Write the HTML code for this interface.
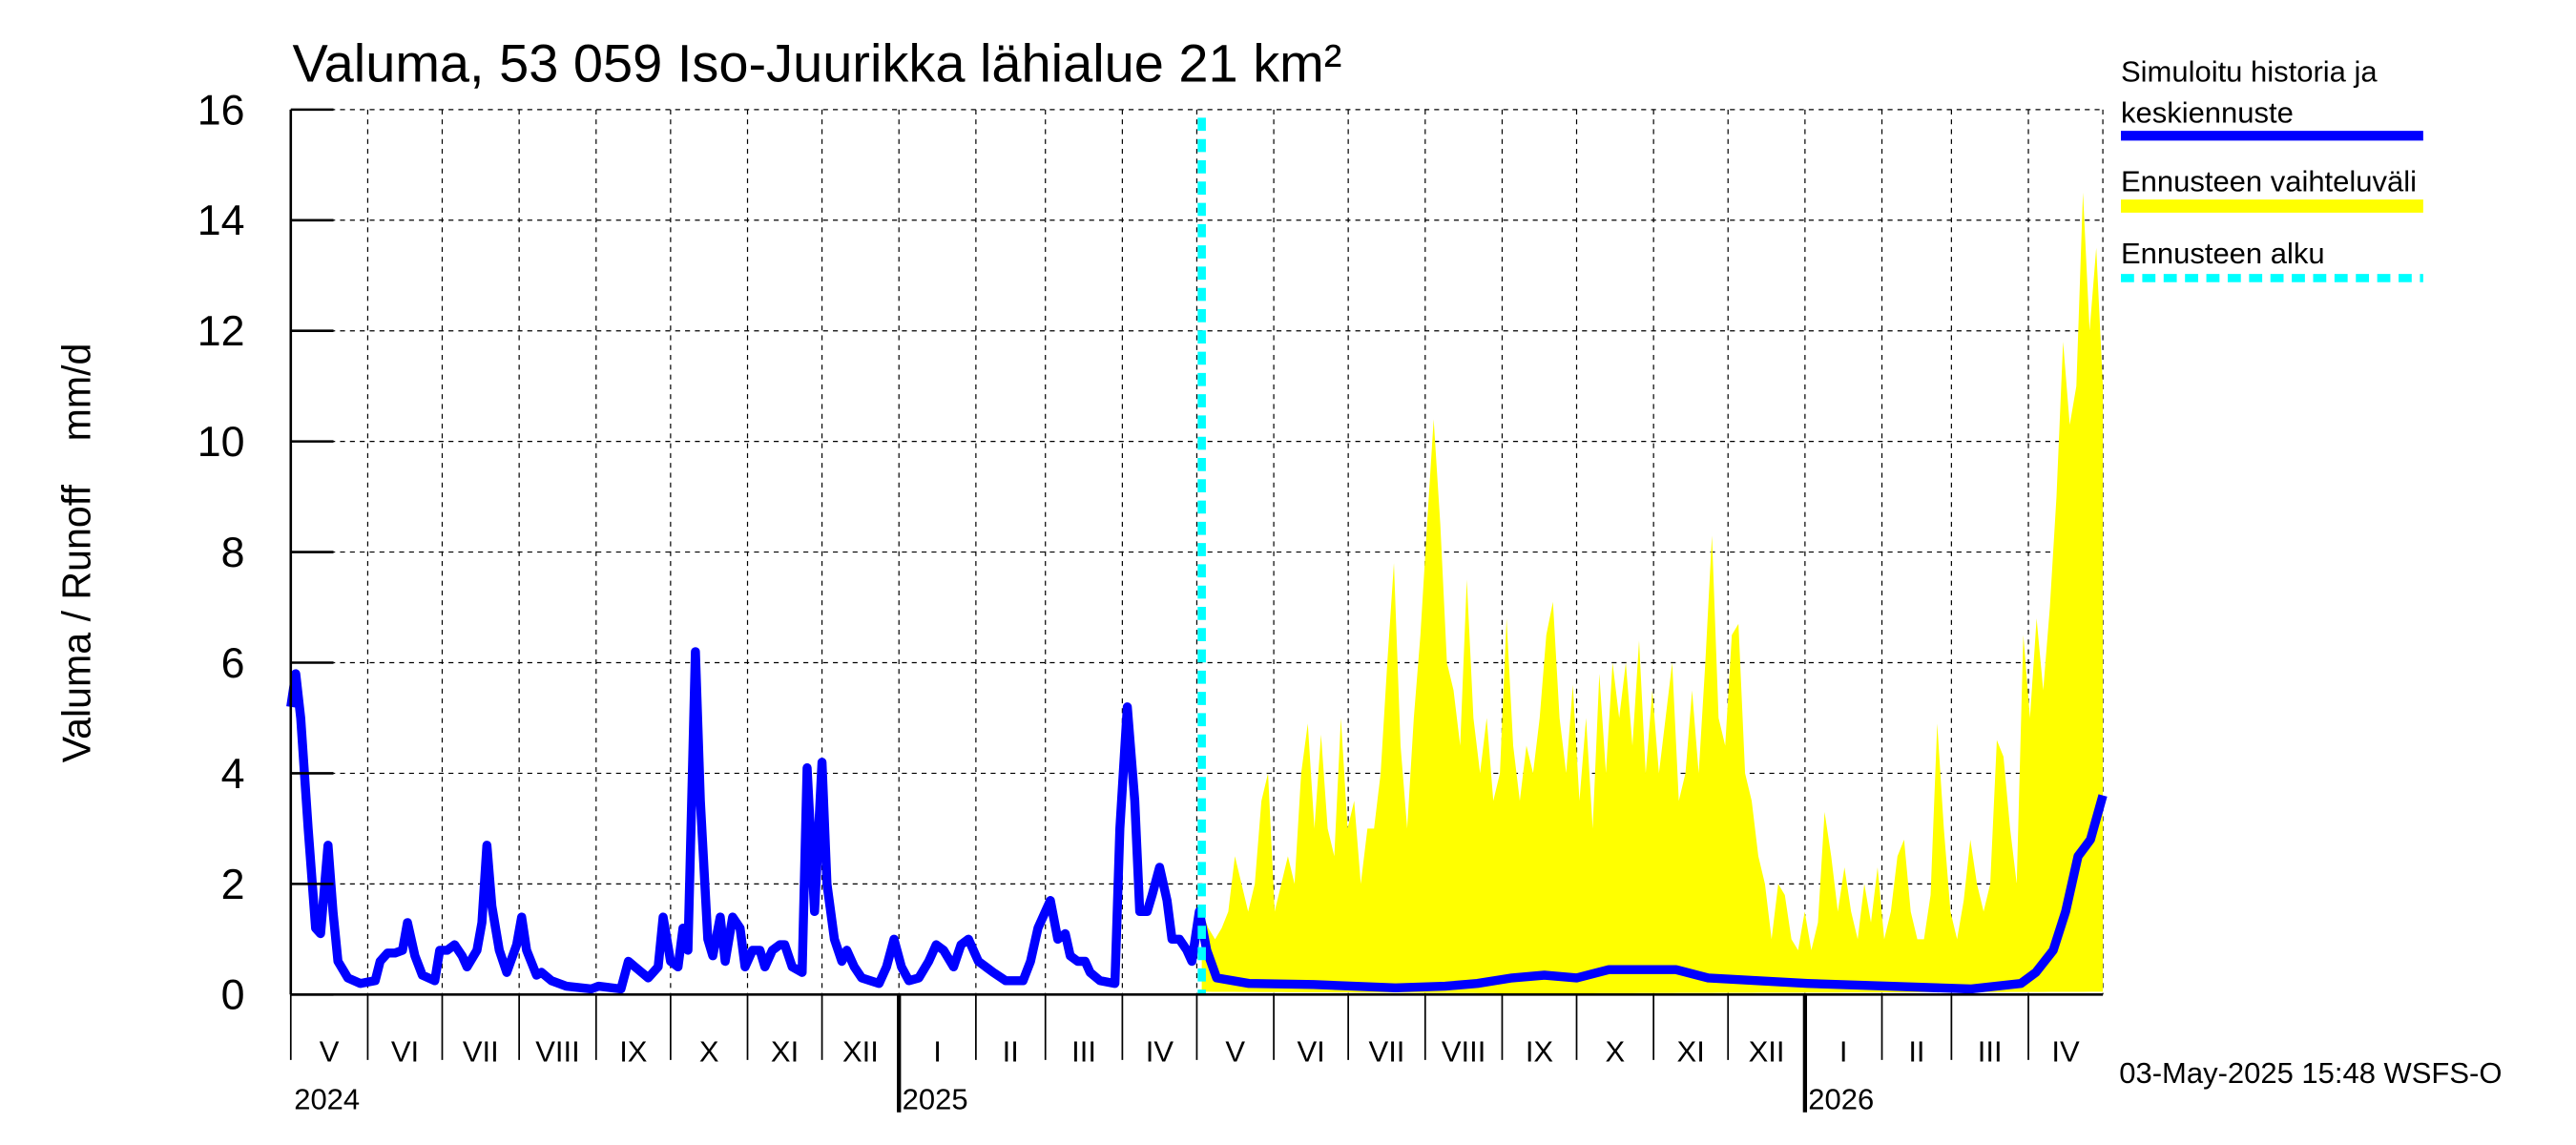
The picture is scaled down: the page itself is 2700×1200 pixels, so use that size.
<!DOCTYPE html>
<html><head><meta charset="utf-8"><style>
html,body{margin:0;padding:0;background:#fff;}
svg{display:block;font-family:"Liberation Sans",sans-serif;}
</style></head><body>
<svg id="chart" width="2700" height="1200" viewBox="0 0 1568 700" preserveAspectRatio="none" xmlns="http://www.w3.org/2000/svg">
<g id="grid"></g>
<g id="band"></g>
<g id="line"></g>
<g id="axes"></g>
<text x="178" y="50" font-size="32.5">Valuma, 53 059 Iso-Juurikka lähialue 21 km²</text>
<text transform="translate(55,338) rotate(-90)" text-anchor="middle" font-size="24" xml:space="preserve">Valuma / Runoff    mm/d</text>
<g font-size="18">
<text x="1291" y="50">Simuloitu historia ja</text>
<text x="1291" y="75">keskiennuste</text>
<line x1="1291" y1="83" x2="1475" y2="83" stroke="#0000ff" stroke-width="6"/>
<text x="1291" y="117">Ennusteen vaihteluväli</text>
<line x1="1291" y1="126" x2="1475" y2="126" stroke="#ffff00" stroke-width="8"/>
<text x="1291" y="161">Ennusteen alku</text>
<line x1="1291" y1="170" x2="1475" y2="170" stroke="#00ffff" stroke-width="5" stroke-dasharray="8,5"/>
</g>
<text x="1290" y="662" font-size="18">03-May-2025 15:48 WSFS-O</text>
</svg>
<script>
const yTicks=[0,2,4,6,8,10,12,14,16];
const monthLabels=["V","VI","VII","VIII","IX","X","XI","XII","I","II","III","IV","V","VI","VII","VIII","IX","X","XI","XII","I","II","III","IV"];
const monthLengths=[31,30,31,31,30,31,30,31,31,28,31,30,31,30,31,31,30,31,30,31,31,28,31,30];
const yearLabels=["2024","2025","2026"];
const yearStartMonth=[0,8,20];
const forecastStartDay=367;
const histDays=[0,2,4,7,10,12,15,17,19,23,28,34,36,39,42,45,47,50,53,58,60,63,66,69,71,75,77,79,81,84,87,91,93,95,99,101,105,111,121,124,133,136,140,144,148,150,153,156,158,160,163,165,168,170,173,175,178,181,183,186,189,191,194,197,199,202,206,208,211,214,216,219,222,224,227,230,237,240,243,246,249,253,257,260,263,267,270,273,277,280,283,288,295,298,301,304,306,309,312,314,317,320,322,326,332,334,337,340,342,345,347,350,353,355,358,361,363,366,369,373,386,412,445,465,478,492,505,518,531,545,558,571,591,611,644,677,697,703,710,715,720,725,730];
const histVals=[5.2,5.8,5.0,3.0,1.2,1.1,2.7,1.5,0.6,0.3,0.2,0.25,0.6,0.75,0.75,0.8,1.3,0.7,0.35,0.25,0.8,0.8,0.9,0.7,0.5,0.8,1.3,2.7,1.6,0.8,0.4,0.9,1.4,0.8,0.35,0.4,0.25,0.15,0.1,0.15,0.1,0.6,0.45,0.3,0.5,1.4,0.6,0.5,1.2,0.8,6.2,3.5,1.0,0.7,1.4,0.6,1.4,1.2,0.5,0.8,0.8,0.5,0.8,0.9,0.9,0.5,0.4,4.1,1.5,4.2,2.0,1.0,0.6,0.8,0.5,0.3,0.2,0.5,1.0,0.5,0.25,0.3,0.6,0.9,0.8,0.5,0.9,1.0,0.6,0.5,0.4,0.25,0.25,0.6,1.2,1.5,1.7,1.0,1.1,0.7,0.6,0.6,0.4,0.25,0.2,3.0,5.2,3.5,1.5,1.5,1.8,2.3,1.7,1.0,1.0,0.8,0.6,1.5,0.8,0.3,0.2,0.18,0.12,0.15,0.2,0.3,0.35,0.3,0.45,0.45,0.45,0.3,0.25,0.2,0.15,0.1,0.2,0.4,0.8,1.5,2.5,2.8,3.6];
const bandUpper=[1.5,1.2,1.0,1.2,1.5,2.5,2.0,1.5,2.0,3.5,4.0,1.5,2.0,2.5,2.0,4.0,4.9,3.0,4.7,3.0,2.5,5.0,3.0,3.5,2.0,3.0,3.0,4.0,6.0,7.8,4.5,3.0,5.0,6.5,8.5,10.4,8.5,6.0,5.5,4.5,7.5,5.0,4.0,5.0,3.5,4.0,6.8,4.5,3.5,4.5,4.0,5.0,6.5,7.1,5.0,4.0,5.6,3.5,5.0,3.0,5.8,4.0,6.0,5.0,6.0,4.5,6.4,4.0,5.5,4.0,5.0,6.0,3.5,4.0,5.5,4.0,6.0,8.3,5.0,4.5,6.5,6.7,4.0,3.5,2.5,2.0,1.0,2.0,1.8,1.0,0.8,1.5,0.8,1.3,3.3,2.5,1.5,2.3,1.5,1.0,2.0,1.3,2.3,1.0,1.5,2.5,2.8,1.5,1.0,1.0,1.8,4.9,3.0,1.5,1.0,1.7,2.8,2.0,1.5,2.0,4.6,4.3,3.0,2.0,6.5,5.0,6.8,5.5,7.0,9.0,11.8,10.3,11.0,14.5,12.0,13.5,11.0];
const bandLowDays=[367,500,730];
const bandLowVals=[0.05,0.02,0.05];

const X0=177,X1=1280,Y0=608,Y1=67,TOTAL=730;
const xs=d=>X0+(X1-X0)*d/TOTAL;
const ys=v=>Y0-(Y0-Y1)*v/16;
const NS="http://www.w3.org/2000/svg";
function mk(tag,attrs,parent){const e=document.createElementNS(NS,tag);for(const k in attrs)e.setAttribute(k,attrs[k]);parent.appendChild(e);return e;}
const grid=document.getElementById('grid'),axes=document.getElementById('axes');
yTicks.forEach(v=>{
  const g=mk('line',{x1:X0,x2:X1,y1:ys(v),y2:ys(v),stroke:'#000','stroke-width':0.7,'stroke-dasharray':'3,3'},grid);
  
  
  const t=mk('line',{x1:X0,x2:X0+26,y1:ys(v),y2:ys(v),stroke:'#000','stroke-width':1.5},axes);
  
  
  const l=mk('text',{x:X0-28,y:ys(v)+9,'text-anchor':'end','font-size':26},axes);
  l.textContent=v;
  
  
});
let day=0;
monthLabels.forEach((m,i)=>{
  const xa=xs(day),xb=xs(day+monthLengths[i]);
  if(i>0){const g=mk('line',{x1:xa,x2:xa,y1:Y1,y2:Y0,stroke:'#000','stroke-width':0.7,'stroke-dasharray':'3,3'},grid);
  
  }
  const isYear=yearStartMonth.includes(i)&&i>0;
  const t=mk('line',{x1:xa,x2:xa,y1:Y0,y2:isYear?680:648,stroke:'#000','stroke-width':isYear?2.5:1},axes);
  
  
  const l=mk('text',{x:(xa+xb)/2,y:649,'text-anchor':'middle','font-size':18},axes);
  l.textContent=m;
  
  
  day+=monthLengths[i];
});
const re=mk('line',{x1:X1,x2:X1,y1:Y1,y2:Y0,stroke:'#000','stroke-width':0.7,'stroke-dasharray':'3,3'},grid);


yearLabels.forEach((y,i)=>{
  let d=0;for(let k=0;k<yearStartMonth[i];k++)d+=monthLengths[k];
  const l=mk('text',{x:xs(d)+2,y:678,'font-size':18},axes);
  l.textContent=y;
  
  
});
const n=bandUpper.length;
const bandDay=i=>forecastStartDay+(TOTAL-forecastStartDay)*i/(n-1);
function lowAt(d){for(let k=0;k<bandLowDays.length-1;k++){if(d<=bandLowDays[k+1]){const f=(d-bandLowDays[k])/(bandLowDays[k+1]-bandLowDays[k]);return bandLowVals[k]+f*(bandLowVals[k+1]-bandLowVals[k]);}}return bandLowVals[bandLowVals.length-1];}
let pts=[];
for(let i=0;i<n;i++)pts.push(xs(bandDay(i)).toFixed(2)+','+ys(bandUpper[i]).toFixed(2));
for(let i=n-1;i>=0;i--)pts.push(xs(bandDay(i)).toFixed(2)+','+ys(lowAt(bandDay(i))).toFixed(2));
const bp=mk('polygon',{points:pts.join(' '),fill:'#ffff00',stroke:'none'},document.getElementById('band'));


const lp=mk('polyline',{points:histDays.map((d,i)=>xs(d).toFixed(2)+','+ys(histVals[i]).toFixed(2)).join(' '),fill:'none',stroke:'#0000ff','stroke-width':5.5,'stroke-linejoin':'round'},document.getElementById('line'));


const fs=mk('line',{x1:xs(forecastStartDay),x2:xs(forecastStartDay),y1:Y1+5,y2:Y0,stroke:'#00ffff','stroke-width':5,'stroke-dasharray':'8,5'},axes);


const la=mk('line',{x1:X0,x2:X0,y1:Y1,y2:Y0,stroke:'#000','stroke-width':1.5},axes);


const ba=mk('line',{x1:X0,x2:X1,y1:Y0,y2:Y0,stroke:'#000','stroke-width':1.5},axes);


</script>
</body></html>
